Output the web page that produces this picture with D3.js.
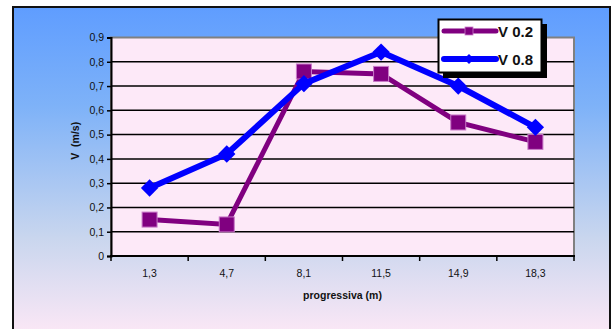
<!DOCTYPE html>
<html>
<head>
<meta charset="utf-8">
<script src="https://cdn.jsdelivr.net/npm/d3@7"></script>
<style>
  html, body { margin: 0; padding: 0; background: #ffffff; }
  svg { display: block; font-family: Arial, "Liberation Sans", sans-serif; }
</style>
</head>
<body>
<svg id="chart" width="612" height="329"></svg>
<script>
// Velocity measured along the channel for two depth ratios
const categories = ["1,3", "4,7", "8,1", "11,5", "14,9", "18,3"];
const seriesNames = ["V 0.2", "V 0.8"];
const v02 = [0.15, 0.13, 0.76, 0.75, 0.55, 0.47];
const v08 = [0.28, 0.42, 0.71, 0.84, 0.70, 0.53];
const yTicks = [0, 0.1, 0.2, 0.3, 0.4, 0.5, 0.6, 0.7, 0.8, 0.9];
const xTitle = "progressiva (m)";
const yTitle = "V  (m/s)";

const svg = d3.select("#chart");

// Frame background gradient (blue top to pale pink bottom)
const defs = svg.append("defs");
const grad = defs.append("linearGradient")
  .attr("id", "bg").attr("x1", 0).attr("y1", 0).attr("x2", 0).attr("y2", 1);
grad.append("stop").attr("offset", "0%").attr("stop-color", "#5f9dff");
grad.append("stop").attr("offset", "30%").attr("stop-color", "#7eb2f8");
grad.append("stop").attr("offset", "70%").attr("stop-color", "#c9d6ee");
grad.append("stop").attr("offset", "100%").attr("stop-color", "#fde8f6");

svg.append("rect")
  .attr("x", 13).attr("y", 7).attr("width", 597).attr("height", 330)
  .attr("fill", "url(#bg)")
  .attr("stroke", "#111").attr("stroke-width", 2);

// Plot area
const plotLeft = 111, plotRight = 574, plotTop = 37.5, plotBottom = 256;
const x = d3.scaleBand().domain(categories).range([plotLeft, plotRight]).padding(0);
const y = d3.scaleLinear().domain([0, 0.9]).range([plotBottom, plotTop]);

svg.append("rect")
  .attr("x", plotLeft).attr("y", plotTop)
  .attr("width", plotRight - plotLeft).attr("height", plotBottom - plotTop)
  .attr("fill", "#fde9f8")
  .attr("stroke", "#808080").attr("stroke-width", 2);

// Horizontal gridlines
svg.append("g")
  .selectAll("line")
  .data(yTicks.filter(d => d > 0 && d < 0.9))
  .join("line")
  .attr("x1", plotLeft).attr("x2", plotRight)
  .attr("y1", d => y(d)).attr("y2", d => y(d))
  .attr("stroke", "#000").attr("stroke-width", 1.5);

// Y axis
const yAxis = svg.append("g")
  .attr("transform", `translate(${plotLeft},0)`)
  .call(d3.axisLeft(y).tickValues(yTicks).tickSize(4).tickPadding(3)
    .tickFormat(d => d === 0 ? "0" : d3.format(".1f")(d).replace(".", ",")));
yAxis.select(".domain").attr("stroke", "#000").attr("stroke-width", 2);
yAxis.selectAll(".tick line").attr("stroke", "#000").attr("stroke-width", 1.5);
yAxis.selectAll("text").attr("font-size", 10.5).attr("fill", "#111")
  .attr("font-family", "Arial, 'Liberation Sans', sans-serif");

// X axis: ticks at the band boundaries, labels at the centres
const xAxisG = svg.append("g").attr("transform", `translate(0,${plotBottom})`);
const boundaries = categories.map(c => x(c)).concat([x(categories[categories.length - 1]) + x.bandwidth()]);
xAxisG.append("line")
  .attr("x1", plotLeft - 1).attr("x2", plotRight + 1)
  .attr("stroke", "#000").attr("stroke-width", 2);
xAxisG.selectAll("line.tick")
  .data(boundaries)
  .join("line").attr("class", "tick")
  .attr("x1", d => d).attr("x2", d => d)
  .attr("y1", 0).attr("y2", 5)
  .attr("stroke", "#000").attr("stroke-width", 1.5);
xAxisG.selectAll("text")
  .data(categories)
  .join("text")
  .attr("x", d => x(d) + x.bandwidth() / 2)
  .attr("y", 20.5)
  .attr("text-anchor", "middle")
  .attr("font-size", 10.5).attr("fill", "#111")
  .text(d => d);

// Axis titles
svg.append("text")
  .attr("x", (plotLeft + plotRight) / 2).attr("y", 298.5)
  .attr("text-anchor", "middle")
  .attr("font-size", 10.5).attr("font-weight", "bold").attr("fill", "#111")
  .text(xTitle);

svg.append("text")
  .attr("transform", `translate(79,${(plotTop + plotBottom) / 2 - 6}) rotate(-90)`)
  .attr("text-anchor", "middle")
  .attr("font-size", 10.5).attr("font-weight", "bold").attr("fill", "#111")
  .attr("xml:space", "preserve")
  .text(yTitle);

const cx = (d, i) => x(categories[i]) + x.bandwidth() / 2;
const line = d3.line().x((d, i) => cx(d, i)).y(d => y(d));

// Series V 0.2: purple with square markers
svg.append("path")
  .datum(v02)
  .attr("d", line)
  .attr("fill", "none")
  .attr("stroke", "#800080").attr("stroke-width", 5)
  .attr("stroke-linejoin", "miter");
svg.append("g").selectAll("rect")
  .data(v02)
  .join("rect")
  .attr("x", (d, i) => cx(d, i) - 7.5)
  .attr("y", d => y(d) - 7.5)
  .attr("width", 15).attr("height", 15)
  .attr("fill", "#800080")
  .attr("stroke", "#c87ac8").attr("stroke-width", 1);

// Series V 0.8: blue with diamond markers
svg.append("path")
  .datum(v08)
  .attr("d", line)
  .attr("fill", "none")
  .attr("stroke", "#0000ff").attr("stroke-width", 6)
  .attr("stroke-linejoin", "miter");
const diamond = d3.symbol().type(d3.symbolSquare).size(150);
svg.append("g").selectAll("path")
  .data(v08)
  .join("path")
  .attr("transform", (d, i) => `translate(${cx(d, i)},${y(d)}) rotate(45)`)
  .attr("d", diamond)
  .attr("fill", "#0000ff");

// Legend with drop shadow
const lg = svg.append("g");
lg.append("rect")
  .attr("x", 443).attr("y", 24).attr("width", 104).attr("height", 54)
  .attr("fill", "#000");
lg.append("rect")
  .attr("x", 438.5).attr("y", 19.5).attr("width", 103).attr("height", 53)
  .attr("fill", "#fff").attr("stroke", "#000").attr("stroke-width", 2);

const legendItems = [
  { name: seriesNames[0], color: "#800080", width: 5, y: 31 },
  { name: seriesNames[1], color: "#0000ff", width: 6, y: 59 }
];
legendItems.forEach((it, k) => {
  lg.append("line")
    .attr("x1", 444).attr("x2", 496)
    .attr("y1", it.y).attr("y2", it.y)
    .attr("stroke", it.color).attr("stroke-width", it.width)
    .attr("stroke-linecap", "round");
  if (k === 0) {
    lg.append("rect")
      .attr("x", 465).attr("y", it.y - 4).attr("width", 8).attr("height", 8)
      .attr("fill", it.color).attr("stroke", "#c87ac8").attr("stroke-width", 0.8);
  } else {
    lg.append("path")
      .attr("transform", `translate(469,${it.y}) rotate(45)`)
      .attr("d", d3.symbol().type(d3.symbolSquare).size(50))
      .attr("fill", it.color);
  }
  lg.append("text")
    .attr("x", 498).attr("y", it.y + 5.5)
    .attr("font-size", 15).attr("font-weight", "bold").attr("fill", "#111")
    .text(it.name);
});
</script>
</body>
</html>
